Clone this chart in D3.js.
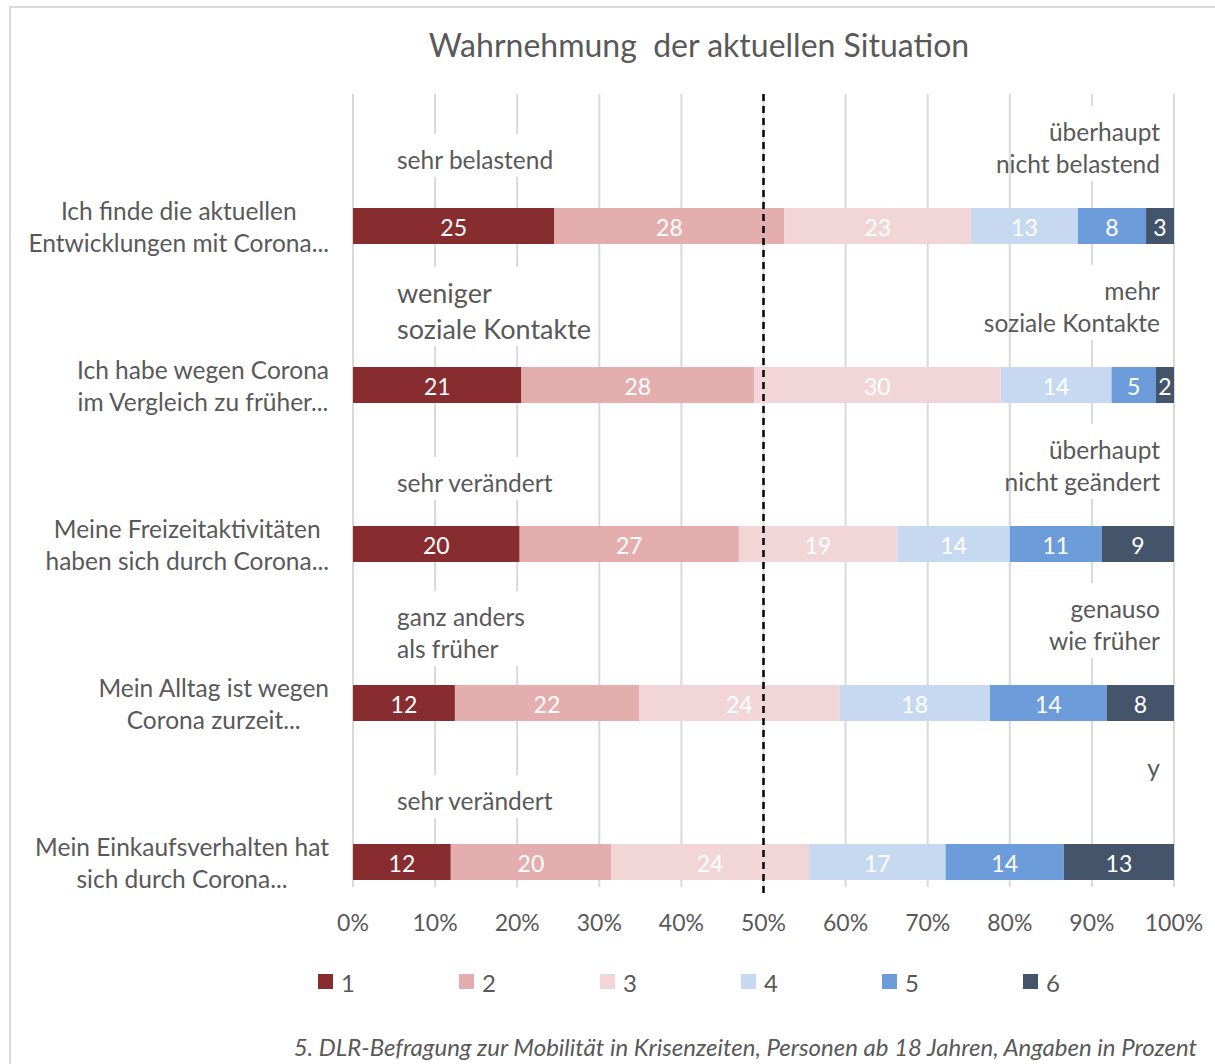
<!DOCTYPE html>
<html><head><meta charset="utf-8">
<script src="https://cdn.jsdelivr.net/npm/d3@7"></script>
<style>
html,body{margin:0;padding:0;background:#fff;}
svg text{font-family:Lato,"Noto Sans",sans-serif;fill:#595959;}
</style></head>
<body><svg id="chart" width="1215" height="1064"></svg>
<script>
// ---------- data ----------
const title = "Wahrnehmung  der aktuellen Situation";
const categories = [
  "Ich finde die aktuellen|Entwicklungen mit Corona...",
  "Ich habe wegen Corona|im Vergleich zu früher...",
  "Meine Freizeitaktivitäten|haben sich durch Corona...",
  "Mein Alltag ist wegen|Corona zurzeit...",
  "Mein Einkaufsverhalten hat|sich durch Corona..."
];
const seriesNames = ["1","2","3","4","5","6"];
const s1 = [24.5, 20.5, 20.3, 12.4, 11.9];
const s2 = [28.0, 28.3, 26.7, 22.4, 19.5];
const s3 = [22.7, 30.0, 19.3, 24.4, 24.1];
const s4 = [13.0, 13.5, 13.7, 18.3, 16.6];
const s5 = [8.3, 5.4, 11.2, 14.2, 14.4];
const s6 = [3.4, 2.2, 8.8, 8.2, 13.4];
const colors = ["#882D2F","#E5AEAE","#F2D6D7","#C6D9F0","#6C9DDA","#44546A"];
const xTicks = [0,0.1,0.2,0.3,0.4,0.5,0.6,0.7,0.8,0.9,1];
const leftNotes = ["sehr belastend", "weniger|soziale Kontakte", "sehr verändert", "ganz anders|als früher", "sehr verändert"];
const rightNotes = ["überhaupt|nicht belastend", "mehr|soziale Kontakte", "überhaupt|nicht geändert", "genauso|wie früher", "y|"];
const footnote = "5. DLR-Befragung zur Mobilität in Krisenzeiten, Personen ab 18 Jahren, Angaben in Prozent";

// ---------- build ----------
const allSeries = [s1,s2,s3,s4,s5,s6];
const rows = categories.map((c,i)=>{
  const o = {cat:c};
  seriesNames.forEach((k,j)=>o[k]=allSeries[j][i]);
  return o;
});
const stack = d3.stack().keys(seriesNames).offset(d3.stackOffsetExpand)(rows);

const svg = d3.select("#chart");
svg.append("rect").attr("x",10).attr("y",7).attr("width",1230).attr("height",1100)
  .attr("fill","#fff").attr("stroke","#d9d9d9").attr("stroke-width",2);

const x = d3.scaleLinear().domain([0,1]).range([353,1174]);
const y = d3.scaleBand().domain(categories).range([85,880]);
const barH = 36;
const barY = c => y(c) + y.bandwidth() - barH;
const barC = c => barY(c) + barH/2;

svg.append("text").attr("x",699).attr("y",44).attr("text-anchor","middle")
  .attr("dominant-baseline","central").style("font-size","32px").style("white-space","pre").text(title);

// gridlines
svg.append("g").selectAll("line").data(xTicks).join("line")
  .attr("x1",d=>x(d)).attr("x2",d=>x(d)).attr("y1",94).attr("y2",887)
  .attr("stroke","#d9d9d9").attr("stroke-width",2);

// annotation boxes and text
const annG = svg.append("g");
function note(str, i, side){
  const lines = str.split("|");
  const big = (side==="L" && i===1);
  const fs = big ? 27 : 24.5;
  const lh = big ? 36 : 32;
  const yc = barC(categories[i]);
  const firstOff = side==="L" ? (lines.length===2 ? (big?-93:-87) : -62) : -95;
  const adj = side==="L" && i===0 ? -5 : 0;
  const g = annG.append("g");
  const rect = g.append("rect").attr("fill","#fff");
  const xpos = side==="L" ? 397 : 1160;
  const t = g.append("text").attr("text-anchor", side==="L" ? "start":"end").style("font-size",fs+"px");
  lines.forEach((ln,k)=>{
    t.append("tspan").attr("x",xpos).attr("y",yc+firstOff+adj+k*lh).attr("dominant-baseline","central").text(ln);
  });
  const top = yc+firstOff+adj-25, bot = yc+firstOff+adj+(lines.length-1)*lh+18;
  const bb = t.node().getBBox();
  let x0 = bb.x-3, x1 = bb.x+bb.width+3;
  if(side==="L"){ x1 = Math.min(x1, x(0.29)); }
  if(side==="R"){ x0 = Math.max(x0, x(0.82)); x1 = Math.max(x1, x(0.93)); }
  rect.attr("x",x0).attr("y",top).attr("width",x1-x0).attr("height",bot-top);
}
leftNotes.forEach((s,i)=>note(s,i,"L"));
rightNotes.forEach((s,i)=>note(s,i,"R"));

// bars
const gBars = svg.append("g");
stack.forEach((ser,j)=>{
  const g = gBars.append("g").attr("fill",colors[j]);
  g.selectAll("rect").data(ser).join("rect")
    .attr("x",d=>x(d[0])).attr("width",d=>x(d[1])-x(d[0]))
    .attr("y",d=>barY(d.data.cat)).attr("height",barH);
  g.selectAll("text").data(ser).join("text")
    .attr("x",d=>(x(d[0])+x(d[1]))/2).attr("y",d=>barC(d.data.cat)+1)
    .attr("text-anchor","middle").attr("dominant-baseline","central")
    .style("font-size","23px").style("fill","#fff")
    .text(d=>Math.round(d.data[ser.key]));
});

// 50% dashed line
svg.append("line").attr("x1",x(0.5)).attr("x2",x(0.5)).attr("y1",94).attr("y2",896)
  .attr("stroke","#000").attr("stroke-width",2.5).attr("stroke-dasharray","7,5");

// category labels
categories.forEach(c=>{
  const lines = c.split("|");
  const t = svg.append("text").style("font-size","24.5px").attr("text-anchor","middle");
  const ts = lines.map((ln,k)=>t.append("tspan").attr("y",barC(c)-16+k*32).attr("dominant-baseline","central").text(ln));
  const w = d3.max(ts, s=>s.node().getComputedTextLength());
  ts.forEach(s=>s.attr("x",329 - w/2));
});

// x axis tick labels
svg.append("g").selectAll("text").data(xTicks).join("text")
  .attr("x",d=>x(d)).attr("y",922).attr("text-anchor","middle").attr("dominant-baseline","central")
  .style("font-size","23px").text(d3.format(".0%"));

// legend
const lg = svg.append("g").selectAll("g").data(seriesNames).join("g")
  .attr("transform",(d,i)=>`translate(${318+i*141},974)`);
lg.append("rect").attr("width",15).attr("height",15).attr("fill",(d,i)=>colors[i]);
lg.append("text").attr("x",23).attr("y",8).attr("dominant-baseline","central").style("font-size","24px").text(d=>d);

// footnote
svg.append("text").attr("x",1197).attr("y",1046).attr("text-anchor","end").attr("dominant-baseline","central")
  .style("font-size","24px").style("font-style","italic").text(footnote);
</script></body></html>
